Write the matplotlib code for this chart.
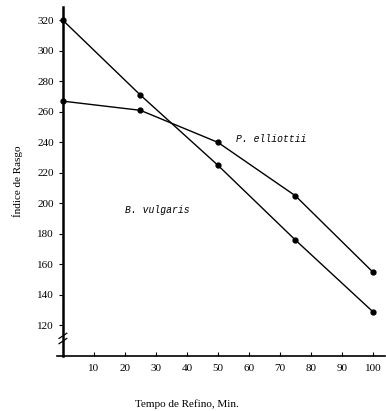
import matplotlib
matplotlib.use("Agg")
import matplotlib.pyplot as plt

tempo = [0, 25, 50, 75, 100]
b_vulgaris = [320, 271, 225, 176, 129]
p_elliottii = [267, 261, 240, 205, 155]
xticks = [10, 20, 30, 40, 50, 60, 70, 80, 90, 100]
yticks = [120, 140, 160, 180, 200, 220, 240, 260, 280, 300, 320]

plt.rcParams['font.family'] = ['Liberation Serif', 'DejaVu Serif']

fig = plt.figure(figsize=(3.86, 4.11), dpi=100)
ax = fig.add_axes([0.163, 0.134, 0.835, 0.85])

ax.plot(tempo, b_vulgaris, color='black', lw=1.0, marker='o', ms=3.5, clip_on=False, zorder=3)
ax.plot(tempo, p_elliottii, color='black', lw=1.0, marker='o', ms=3.5, clip_on=False, zorder=3)

ax.set_xlim(0, 104)
ax.set_ylim(100, 329)
ax.set_xticks(xticks)
ax.set_yticks(yticks)
ax.tick_params(axis='x', direction='in', length=3, labelsize=8, pad=6)
ax.tick_params(axis='y', direction='out', length=3, labelsize=8)
for s in ['top', 'right']:
    ax.spines[s].set_visible(False)
ax.spines['left'].set_linewidth(1.8)
ax.spines['bottom'].set_linewidth(1.2)
ax.spines['bottom'].set_bounds(-2, 104)

# axis break marks on y axis
kw = dict(transform=ax.transAxes, color='black', clip_on=False, lw=0.9)
ax.plot([-0.012, 0.012], [0.035, 0.05], **kw)
ax.plot([-0.012, 0.012], [0.05, 0.065], **kw)

ax.text(56, 240, 'P. elliottii', fontsize=7, style='italic', family='Liberation Mono')
ax.text(20, 194, 'B. vulgaris', fontsize=7, style='italic', family='Liberation Mono')

ax.set_xlabel('Tempo de Refino, Min.', fontsize=8)
ax.xaxis.set_label_coords(0.385, -0.125)
ax.set_ylabel('Índice de Rasgo', fontsize=8, labelpad=10)

fig.savefig('out.png', dpi=100)
